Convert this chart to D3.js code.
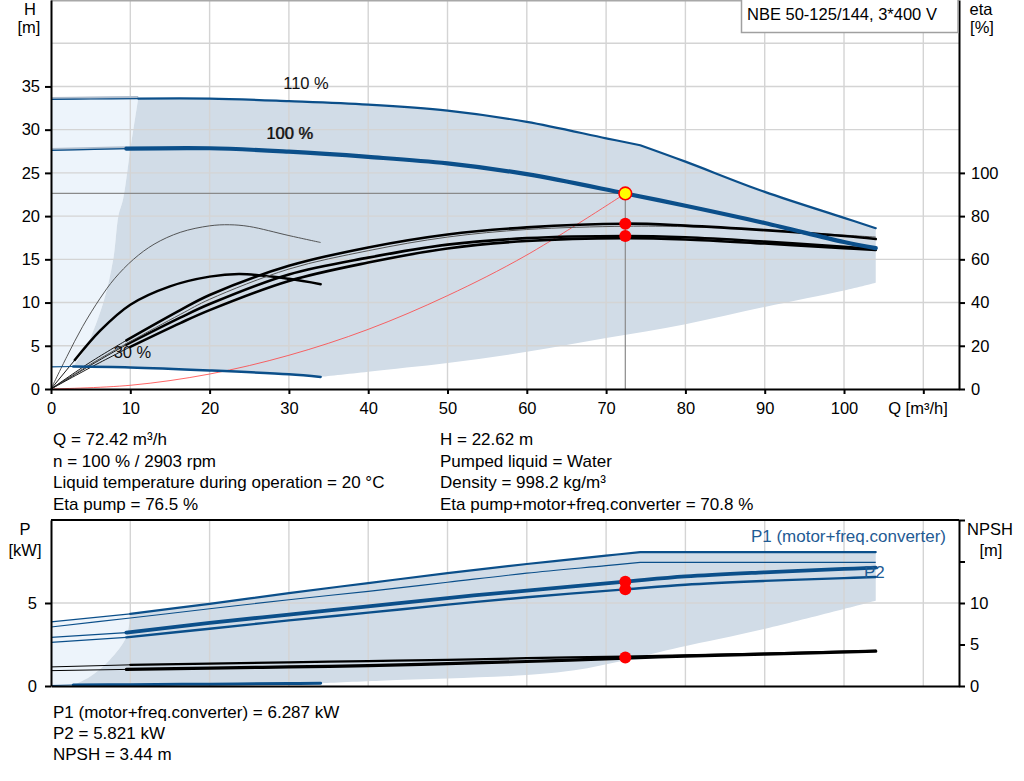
<!DOCTYPE html>
<html>
<head>
<meta charset="utf-8">
<script src="https://cdn.jsdelivr.net/npm/d3@7"></script>
<style>
  body { margin: 0; background: #fff; }
  svg { display: block; font-family: "Liberation Sans", Arial, sans-serif; }
</style>
</head>
<body>
<div id="chart"></div>
<script>
const width = 1024, height = 781;

// ---- data (Q in m3/h) ----
const qTicks = [0, 10, 20, 30, 40, 50, 60, 70, 80, 90, 100, 110];
const hTicks = [0, 5, 10, 15, 20, 25, 30, 35];
const hGrid = [5, 10, 15, 20, 25, 30, 35, 40];
const etaTicks = [0, 20, 40, 60, 80, 100];
const pTicks = [0, 5];
const npshTicks = [0, 5, 10, 15, 20];

// Q where the 110 % curves hit the power limit
const powerLimitQ = 74.3;

// head curves [Q, H m]
const head110 = [[0,33.5],[5,33.55],[11,33.6],[20,33.6],[30,33.3],[40,32.9],[50,32.2],[60,30.9],[70,29.0],[74.3,28.2],[80,26.3],[90,22.8],[100,19.8],[104,18.6]];
const head100 = [[0,27.6],[9.5,27.8],[20,27.85],[30,27.45],[40,26.85],[50,26.1],[60,24.85],[72.42,22.62],[80,21.2],[90,19.2],[100,17.0],[104,16.3]];
const head30 = [[0,2.55],[2.8,2.6],[10,2.5],[20,2.15],[30,1.7],[34,1.4]];
const minFlowH = [[2.8,2.6],[4.5,5],[6.6,10],[7.85,15],[8.5,20],[9.1,22],[10,27.7],[11,33.6]];
const rangeBottomH = [[34,1.4],[40,2.0],[50,3.0],[60,4.3],[70,5.9],[80,7.5],[90,9.5],[100,11.4],[104,12.3]];
const systemH = [[0,0],[10,0.43],[20,1.73],[30,3.9],[40,6.9],[50,10.8],[60,15.5],[72.42,22.62]];

// efficiency curves [Q, eta %]
const etaPump30 = [[0,0],[2,15],[4,29],[6.2,42],[8,51],[10.4,60],[13,67],[16.3,72.5],[20,75.5],[22.5,76],[25,75.2],[30,71],[34,67.8]];
const etaTotal30 = [[0,0],[3,13.4],[6.2,27],[10,39],[15,47.5],[20,52],[23.8,53.2],[30,51],[34,48.5]];
const etaPump100 = [[0,0],[5,12.5],[9.5,22.5],[16.3,36.5],[20,43.5],[30,57],[40,65.5],[50,71.5],[60,74.8],[72.42,76.5],[80,75.6],[90,73.5],[100,70.8],[104,69.4]];
const etaPump110 = [[0,0],[5,11.5],[10,22],[16.3,34.5],[20,41.5],[30,55.5],[40,64],[50,70.3],[60,73.8],[72.42,75.3],[80,75.1],[90,73.6],[100,71.2],[104,70.3]];
const etaTotal100 = [[0,0],[5,11],[9.5,20.5],[16.3,33],[20,39.3],[30,53],[40,60.8],[50,66.8],[60,69.8],[72.42,70.8],[80,70.2],[90,68.2],[100,65.8],[104,64.8]];
const etaTotal110 = [[0,0],[5,10],[10,19.5],[16.3,30.5],[20,36.5],[30,50],[40,58.5],[50,65],[60,68.5],[72.42,69.8],[80,69.2],[90,67.3],[100,65.2],[104,64.3]];

// power curves [Q, P kW]
const p1_110 = [[0,3.86],[10,4.35],[20,4.95],[30,5.6],[40,6.2],[50,6.8],[60,7.35],[70,7.85],[74.3,8.07],[80,8.07],[90,8.07],[104,8.07]];
const p2_110 = [[0,3.55],[10,4.1],[20,4.65],[30,5.2],[40,5.7],[50,6.25],[60,6.8],[70,7.25],[74.3,7.45],[80,7.45],[90,7.45],[104,7.45]];
const p1_100 = [[0,2.93],[9.5,3.22],[20,3.8],[30,4.3],[40,4.8],[50,5.3],[60,5.75],[72.42,6.287],[80,6.6],[90,6.85],[100,7.05],[104,7.13]];
const p2_100 = [[0,2.63],[9.5,2.93],[20,3.45],[30,3.95],[40,4.42],[50,4.9],[60,5.35],[72.42,5.821],[80,6.1],[90,6.33],[100,6.5],[104,6.57]];
const p30 = [[0,0.03],[2.8,0.06],[10,0.08],[20,0.11],[30,0.15],[34,0.17]];
const minFlowP = [[2.8,0.06],[4.9,0.56],[7.4,1.57],[9.5,2.95],[10,4.35]];
const rangeBottomP = [[34,0.17],[41.5,0.32],[50,0.45],[60,0.66],[66,0.95],[72.6,1.57],[79.3,2.33],[90.2,3.47],[104,5.14]];

// NPSH curves [Q, NPSH m]
const npsh110 = [[0,2.3],[10,2.55],[20,2.7],[30,2.85],[40,3.0],[50,3.15],[60,3.35],[72.42,3.55],[80,3.7],[90,3.9],[104,4.25]];
const npsh100 = [[0,1.85],[9.5,2.0],[20,2.15],[30,2.3],[40,2.45],[50,2.7],[60,2.95],[72.42,3.35],[80,3.6],[90,3.85],[104,4.2]];

// duty point
const duty = {q: 72.42, h: 22.62, etaPump: 76.5, etaTotal: 70.8, p1: 6.287, p2: 5.821, npsh: 3.44};

const infoLeft = ["Q = 72.42 m³/h", "n = 100 % / 2903 rpm", "Liquid temperature during operation = 20 °C", "Eta pump = 76.5 %"];
const infoRight = ["H = 22.62 m", "Pumped liquid = Water", "Density = 998.2 kg/m³", "Eta pump+motor+freq.converter = 70.8 %"];
const infoBottom = ["P1 (motor+freq.converter) = 6.287 kW", "P2 = 5.821 kW", "NPSH = 3.44 m"];

// ---- setup ----
const blue = "#0b4f8a", fillRange = "#d1dce7", fillLight = "#edf4fb", gridCol = "#d4d4d4";
const fs = 16.5;

const svg = d3.select("#chart").append("svg")
  .attr("width", width)
  .attr("height", height);

const x = d3.scaleLinear().domain([0, 114.5]).range([51, 959]);
const yH = d3.scaleLinear().domain([0, 45]).range([389, 0]);
const yEta = d3.scaleLinear().domain([0, 180]).range([389, 0]);
const yP = d3.scaleLinear().domain([0, 10]).range([686, 520]);
const yN = d3.scaleLinear().domain([0, 20]).range([686, 520]);

const curve = d3.curveCatmullRom.alpha(0.5);
const lineFor = ys => d3.line().x(d => x(d[0])).y(d => ys(d[1])).curve(curve);

// path through data, with a sharp corner at the kink Q (if any)
function pathD(ys, data, kink) {
  const ln = lineFor(ys);
  if (kink == null || data[0][0] >= kink || data[data.length - 1][0] <= kink) return ln(data);
  const a = data.filter(d => d[0] <= kink), b = data.filter(d => d[0] >= kink);
  return ln(a) + "L" + ln(b).slice(1);
}

// closed outline from several curve pieces
function outline(ys, pieces) {
  return pieces.map((p, i) => {
    const s = pathD(ys, p.data || p, p.kink);
    return i === 0 ? s : "L" + s.slice(1);
  }).join("") + "Z";
}

// thin part before qStart, thick part after
function drawCurve(g, data, ys, o) {
  if (o.start == null) {
    g.append("path").attr("d", pathD(ys, data, o.kink)).attr("fill", "none")
      .attr("stroke", o.color).attr("stroke-width", o.thin);
    return;
  }
  const before = data.filter(d => d[0] <= o.start);
  if (before.length > 1) {
    if (o.halo) {
      g.append("path").attr("d", pathD(ys, before)).attr("fill", "none")
        .attr("stroke", o.halo).attr("stroke-width", 3)
        .attr("transform", "translate(0,-1)");
    }
    g.append("path").attr("d", pathD(ys, before)).attr("fill", "none")
      .attr("stroke", o.color).attr("stroke-width", o.thin);
  }
  g.append("path").attr("d", pathD(ys, data.filter(d => d[0] >= o.start), o.kink)).attr("fill", "none")
    .attr("stroke", o.color).attr("stroke-width", o.thick)
    .attr("stroke-linecap", "round").attr("stroke-linejoin", "round");
}

function styleAxis(g) {
  g.selectAll("text").attr("font-size", fs).attr("fill", "#000")
    .attr("font-family", "'Liberation Sans', Arial, sans-serif");
  g.selectAll("line").attr("stroke", "#000").attr("stroke-width", 2);
  g.select(".domain").attr("stroke", "#000").attr("stroke-width", 2);
}

function label(g, t, xx, yy, anchor) {
  return g.append("text").attr("x", xx).attr("y", yy)
    .attr("text-anchor", anchor || "middle").attr("font-size", fs).text(t);
}

// ================= TOP CHART =================
const topG = svg.append("g");

// regions
topG.append("path")
  .attr("d", outline(yH, [
    head110.filter(d => d[0] <= 11),
    minFlowH.slice().reverse(),
    head30.filter(d => d[0] <= 2.8).reverse()
  ]))
  .attr("fill", fillLight);

topG.append("path")
  .attr("d", outline(yH, [
    {data: head110.filter(d => d[0] >= 11), kink: powerLimitQ},
    [head110[head110.length - 1], rangeBottomH[rangeBottomH.length - 1]],
    rangeBottomH.slice().reverse(),
    head30.filter(d => d[0] >= 2.8).reverse(),
    minFlowH
  ]))
  .attr("fill", fillRange);

// grid
topG.append("g").selectAll("line").data(qTicks.slice(1)).join("line")
  .attr("x1", d => x(d)).attr("x2", d => x(d))
  .attr("y1", 0).attr("y2", yH(0))
  .attr("stroke", gridCol).attr("stroke-width", 1.4);
topG.append("g").selectAll("line").data(hGrid).join("line")
  .attr("x1", x(0)).attr("x2", x.range()[1])
  .attr("y1", d => yH(d)).attr("y2", d => yH(d))
  .attr("stroke", gridCol).attr("stroke-width", 1.4);
topG.append("line")
  .attr("x1", x(0)).attr("x2", x.range()[1]).attr("y1", 0.8).attr("y2", 0.8)
  .attr("stroke", "#a8a8a8").attr("stroke-width", 1.5);

// duty point helper lines
topG.append("line")
  .attr("x1", x(0)).attr("x2", x(duty.q)).attr("y1", yH(duty.h)).attr("y2", yH(duty.h))
  .attr("stroke", "#8a8a8a").attr("stroke-width", 1.2);
topG.append("line")
  .attr("x1", x(duty.q)).attr("x2", x(duty.q)).attr("y1", yH(duty.h)).attr("y2", yH(0))
  .attr("stroke", "#8a8a8a").attr("stroke-width", 1.2);

// system curve
topG.append("path").attr("d", lineFor(yH)(systemH))
  .attr("fill", "none").attr("stroke", "#ff4040").attr("stroke-width", 0.8);

// efficiency curves
drawCurve(topG, etaPump30, yEta, {color: "#444", thin: 0.9});
drawCurve(topG, etaTotal30, yEta, {start: 3, color: "#000", thin: 0.9, thick: 2.5});
drawCurve(topG, etaTotal110, yEta, {start: 10, color: "#000", thin: 0.9, thick: 2.6});
drawCurve(topG, etaTotal100, yEta, {start: 9.5, color: "#000", thin: 0.9, thick: 2.6});
drawCurve(topG, etaPump110, yEta, {color: "#555", thin: 1});
drawCurve(topG, etaPump100, yEta, {start: 9.5, color: "#000", thin: 0.9, thick: 2.6});

// head curves
drawCurve(topG, head110, yH, {start: 11, kink: powerLimitQ, color: blue, thin: 1.2, thick: 2.2, halo: "#aebccc"});
drawCurve(topG, head100, yH, {start: 9.5, color: blue, thin: 1.2, thick: 4.2, halo: "#aebccc"});
drawCurve(topG, head30, yH, {start: 2.8, color: blue, thin: 1.2, thick: 2.5});

// curve labels
label(topG, "110 %", 306, 89).attr("fill", "#111");
label(topG, "100 %", 289.6, 139).attr("fill", "#111");
label(topG, "100 %", 290.2, 139.3).attr("fill", "#111").attr("opacity", 0.7);
label(topG, "30 %", 132.5, 358).attr("fill", "#111");

// duty markers
topG.append("circle").attr("cx", x(duty.q)).attr("cy", yEta(duty.etaPump)).attr("r", 6).attr("fill", "#ff0000");
topG.append("circle").attr("cx", x(duty.q)).attr("cy", yEta(duty.etaTotal)).attr("r", 6).attr("fill", "#ff0000");
topG.append("circle").attr("cx", x(duty.q)).attr("cy", yH(duty.h)).attr("r", 6.3)
  .attr("fill", "#ffff00").attr("stroke", "#ff0000").attr("stroke-width", 1.6);

// axes
styleAxis(topG.append("g").attr("transform", `translate(${x(0)},0)`)
  .call(d3.axisLeft(yH).tickValues(hTicks).tickSize(6).tickSizeOuter(0).tickPadding(5)));
styleAxis(topG.append("g").attr("transform", `translate(${x.range()[1]},0)`)
  .call(d3.axisRight(yEta).tickValues(etaTicks).tickSize(6).tickSizeOuter(0).tickPadding(6)));
styleAxis(topG.append("g").attr("transform", `translate(0,${yH(0)})`)
  .call(d3.axisBottom(x).tickValues(qTicks).tickSize(5).tickSizeOuter(0).tickPadding(8)
    .tickFormat(d => d <= 100 ? d : "")));

label(topG, "Q [m³/h]", 918, 414);
label(topG, "H", 30, 15);
label(topG, "[m]", 29, 33);
label(topG, "eta", 981, 15);
label(topG, "[%]", 982, 33);

// title box
topG.append("rect").attr("x", 741.5).attr("y", -2).attr("width", 216.5).attr("height", 34.5)
  .attr("fill", "#fff").attr("stroke", "#a0a0a0").attr("stroke-width", 1.5);
label(topG, "NBE 50-125/144, 3*400 V", 747, 20, "start");

// info texts
const info = svg.append("g").attr("font-size", 17).attr("fill", "#000");
infoLeft.forEach((t, i) => info.append("text").attr("x", 53).attr("y", 445 + i * 21.7).text(t));
infoRight.forEach((t, i) => info.append("text").attr("x", 440).attr("y", 445 + i * 21.7).text(t));
infoBottom.forEach((t, i) => info.append("text").attr("x", 53).attr("y", 718 + i * 21.2).text(t));

// ================= BOTTOM CHART =================
const botG = svg.append("g");

botG.append("path")
  .attr("d", outline(yP, [
    p1_110.filter(d => d[0] <= 10),
    minFlowP.slice().reverse(),
    p30.filter(d => d[0] <= 2.8).reverse()
  ]))
  .attr("fill", fillLight);

botG.append("path")
  .attr("d", outline(yP, [
    {data: p1_110.filter(d => d[0] >= 10), kink: powerLimitQ},
    [p1_110[p1_110.length - 1], rangeBottomP[rangeBottomP.length - 1]],
    rangeBottomP.slice().reverse(),
    p30.filter(d => d[0] >= 2.8).reverse(),
    minFlowP
  ]))
  .attr("fill", fillRange);

botG.append("g").selectAll("line").data(qTicks.slice(1)).join("line")
  .attr("x1", d => x(d)).attr("x2", d => x(d))
  .attr("y1", yP(10)).attr("y2", yP(0))
  .attr("stroke", gridCol).attr("stroke-width", 1.4);
botG.append("line")
  .attr("x1", x(0)).attr("x2", x.range()[1]).attr("y1", yP(5)).attr("y2", yP(5))
  .attr("stroke", gridCol).attr("stroke-width", 1.4);

// NPSH
drawCurve(botG, npsh110, yN, {start: 10, color: "#000", thin: 1, thick: 2.2});
drawCurve(botG, npsh100, yN, {start: 9.5, color: "#000", thin: 1, thick: 3.2});

// power
drawCurve(botG, p30, yP, {start: 2.8, color: blue, thin: 1.2, thick: 3});
drawCurve(botG, p2_110, yP, {kink: powerLimitQ, color: blue, thin: 1.1});
drawCurve(botG, p1_110, yP, {start: 10, kink: powerLimitQ, color: blue, thin: 1.2, thick: 2.2});
drawCurve(botG, p2_100, yP, {start: 9.5, color: blue, thin: 1.2, thick: 2.4});
drawCurve(botG, p1_100, yP, {start: 9.5, color: blue, thin: 1.2, thick: 3.8});

label(botG, "P1 (motor+freq.converter)", 946, 542, "end").attr("font-size", 17).attr("fill", "#1f5b94");
label(botG, "P2", 864, 578, "start").attr("font-size", 17).attr("fill", "#1f5b94");

botG.append("circle").attr("cx", x(duty.q)).attr("cy", yP(duty.p1)).attr("r", 6).attr("fill", "#ff0000");
botG.append("circle").attr("cx", x(duty.q)).attr("cy", yP(duty.p2)).attr("r", 6).attr("fill", "#ff0000");
botG.append("circle").attr("cx", x(duty.q)).attr("cy", yN(duty.npsh)).attr("r", 6).attr("fill", "#ff0000");

styleAxis(botG.append("g").attr("transform", `translate(${x(0)},0)`)
  .call(d3.axisLeft(yP).tickValues(pTicks).tickSize(6).tickSizeOuter(0).tickPadding(8)));
styleAxis(botG.append("g").attr("transform", `translate(${x.range()[1]},0)`)
  .call(d3.axisRight(yN).tickValues(npshTicks).tickSize(6).tickSizeOuter(0).tickPadding(5)
    .tickFormat(d => d <= 10 ? d : "")));
styleAxis(botG.append("g").attr("transform", `translate(0,${yP(0)})`)
  .call(d3.axisBottom(x).tickValues([]).tickSizeOuter(0)));
botG.append("line").attr("x1", x(0)).attr("x2", x.range()[1]).attr("y1", yP(10)).attr("y2", yP(10))
  .attr("stroke", "#000").attr("stroke-width", 2);

label(botG, "P", 25, 535);
label(botG, "[kW]", 25, 556);
label(botG, "NPSH", 990, 535);
label(botG, "[m]", 991, 556);
</script>
</body>
</html>
